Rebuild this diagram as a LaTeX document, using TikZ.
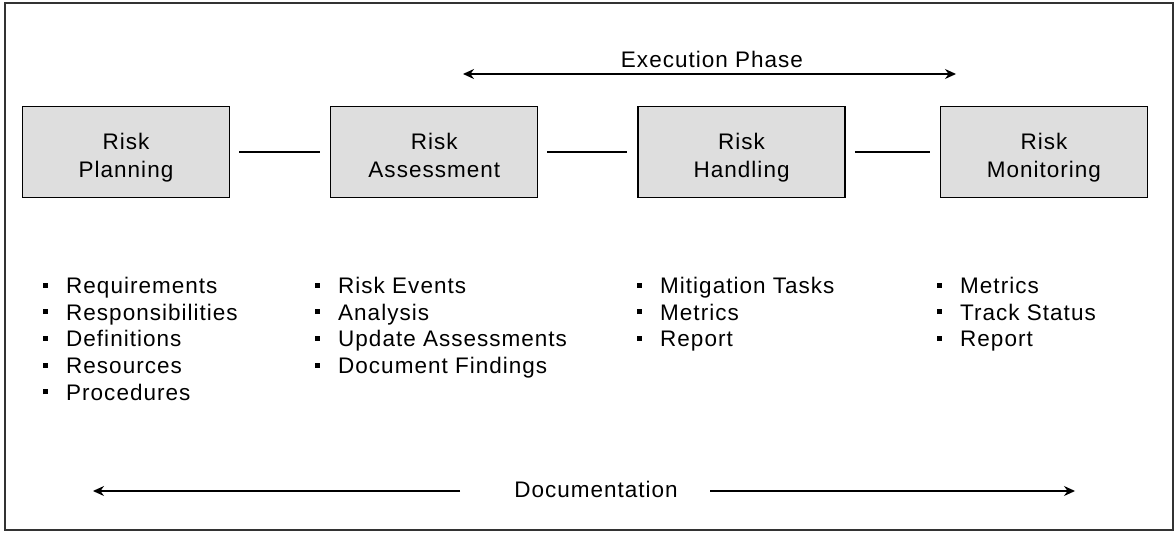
\documentclass[tikz,border=0pt]{standalone}
\usepackage{xcolor}
\usepackage{fontspec}
\setmainfont{Liberation Sans}[LetterSpace=4.5]
\usetikzlibrary{arrows.meta,positioning}
\newcommand{\sqbul}{\rule[6pt]{5pt}{5pt}\hspace{18pt}}
\newcommand{\steptext}[1]{\rule{0pt}{28pt}Risk\\#1\vphantom{g}}

\begin{document}
\begin{tikzpicture}[x=1pt,y=1pt,
      phase/.style={rectangle,draw,line width=1.3pt,fill=black!13,
        minimum width=207pt,minimum height=91pt,align=center,
        font=\fontsize{22.5}{28}\selectfont},
      link/.style={line width=1.2pt,shorten <=9pt,shorten >=10pt},
      arr/.style={line width=1.3pt,-{Stealth[length=11pt,width=10pt]}},
      items/.style={anchor=north west,inner sep=0pt,align=left}]
      \tikzstyle{every node}=[font=\fontsize{22.5}{26.7}\selectfont]
      \useasboundingbox (0,0) rectangle (1174,533);
      \draw[line width=1.8pt,black!80] (5,3) rectangle (1173,530);
      % the four steps
      \node[phase] (plan) at (126,381) {\steptext{Planning}};
      \node[phase,right=100pt of plan] (assess) {\steptext{Assessment}};
      \node[phase,right=99pt of assess] (handle) {\steptext{Handling}};
      \node[phase,right=94pt of handle] (monitor) {\steptext{Monitoring}};
      \draw[link] (plan) -- (assess);
      \draw[link] (assess) -- (handle);
      \draw[link] (handle) -- (monitor);
      % execution phase
      \node (exec) at (712,474) {Execution Phase};
      \coordinate (exL) at (463,459);
      \coordinate (exR) at (956,459);
      \draw[line width=1.3pt,{Stealth[length=11pt,width=10pt]}-{Stealth[length=11pt,width=10pt]}] (exL) -- (exR);
      % lists
      \node[items] (planlist) at (43,256) {\sqbul Requirements\\
        \sqbul Responsibilities\\ \sqbul Definitions\\
        \sqbul Resources\\ \sqbul Procedures};
      \node[items] (assesslist) at (315,256) {\sqbul Risk Events\\
        \sqbul Analysis\\ \sqbul Update Assessments\\
        \sqbul Document Findings};
      \node[items] (handlelist) at (637,256) {\sqbul Mitigation Tasks\\
        \sqbul Metrics\\ \sqbul Report};
      \node[items] (monitorlist) at (937,256) {\sqbul Metrics\\
        \sqbul Track Status\\ \sqbul Report};
      % documentation
      \node (doc) at (596,44) {Documentation};
      \coordinate (docA) at (460,42);
      \coordinate (docL) at (93,42);
      \coordinate (docB) at (710,42);
      \coordinate (docR) at (1075,42);
      \draw[arr] (docA) -- (docL);
      \draw[arr] (docB) -- (docR);
\end{tikzpicture}
\end{document}
